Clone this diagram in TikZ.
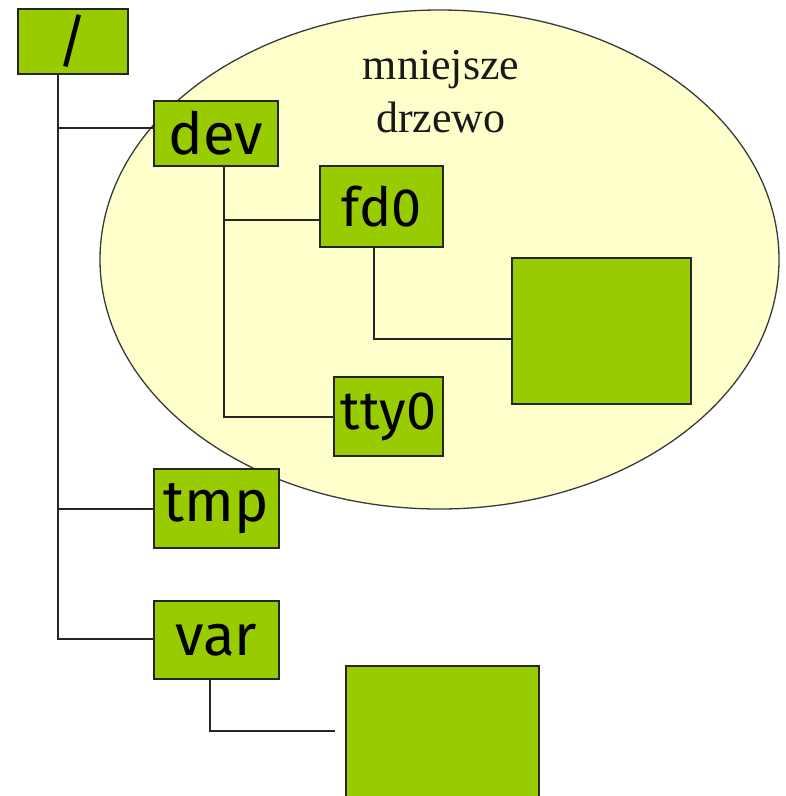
\documentclass[tikz,border=0pt]{standalone}
\usepackage{fontspec}
\usetikzlibrary{shapes.geometric}
\setmainfont{Liberation Serif}
\newfontfamily\labelfont{Fira Sans}
\definecolor{boxgreen}{HTML}{99CC00}
\definecolor{paleyellow}{HTML}{FFFFCC}
\definecolor{edgegray}{HTML}{3A3A3A}
\begin{document}
\begin{tikzpicture}[x=1pt,y=-1pt,
  dirbox/.style={draw=black!85,line width=1.4pt,fill=boxgreen,inner sep=0pt,
    font=\labelfont\fontsize{58}{58}\selectfont},
  smalldir/.style={dirbox,font=\labelfont\fontsize{54}{54}\selectfont},
  link/.style={draw=black!85,line width=1.4pt}]
\useasboundingbox (0,0) rectangle (786,796);
% ellipse (subtree)
\node[ellipse,draw=edgegray,line width=1.3pt,fill=paleyellow,
  minimum width=679pt,minimum height=499pt,inner sep=0pt] (sub) at (439.5,259.5) {};
\node[align=center,font=\fontsize{44}{53}\selectfont,text=black!90,anchor=base] (lbl) at (441,132) {mniejsze\\drzewo};
% boxes
\node[dirbox,minimum width=110pt,minimum height=65pt] (root) at (73,41.5) {/};
\node[dirbox,minimum width=124pt,minimum height=65pt] (dev) at (216,133.5) {dev};
\node[smalldir,minimum width=123pt,minimum height=81pt] (fd0) at (381.5,206.5) {fd0};
\node[dirbox,minimum width=179pt,minimum height=146pt] (big1) at (601.5,331) {};
\node[smalldir,minimum width=109pt,minimum height=79pt] (tty0) at (388.5,416.5) {tty0};
\node[dirbox,minimum width=125pt,minimum height=79pt] (tmp) at (216.5,508.5) {tmp};
\node[dirbox,minimum width=125pt,minimum height=78pt] (var) at (216.5,640) {var};
\node[dirbox,minimum width=193pt,minimum height=150pt] (big2) at (442.5,741) {};
% connectors
\coordinate (rtop) at (58,74);
\coordinate (rbot) at (58,639);
\coordinate (rdev) at (58,128);
\coordinate (rtmp) at (58,509);
\draw[link] (rtop) -- (rbot) -- (rbot -| var.west);
\draw[link] (rdev) -- (rdev -| dev.west);
\draw[link] (rtmp) -- (rtmp -| tmp.west);
\coordinate (dtop) at (224,166);
\coordinate (dbot) at (224,417);
\coordinate (dfd) at (224,220);
\draw[link] (dtop) -- (dbot) -- (dbot -| tty0.west);
\draw[link] (dfd) -- (dfd -| fd0.west);
\coordinate (ftop) at (374,247);
\coordinate (fbot) at (374,339);
\draw[link] (ftop) -- (fbot) -- (fbot -| big1.west);
\coordinate (vtop) at (210,679);
\coordinate (vbot) at (210,731);
\coordinate (vend) at (335,731);
\draw[link] (vtop) -- (vbot) -- (vend);
\end{tikzpicture}
\end{document}
